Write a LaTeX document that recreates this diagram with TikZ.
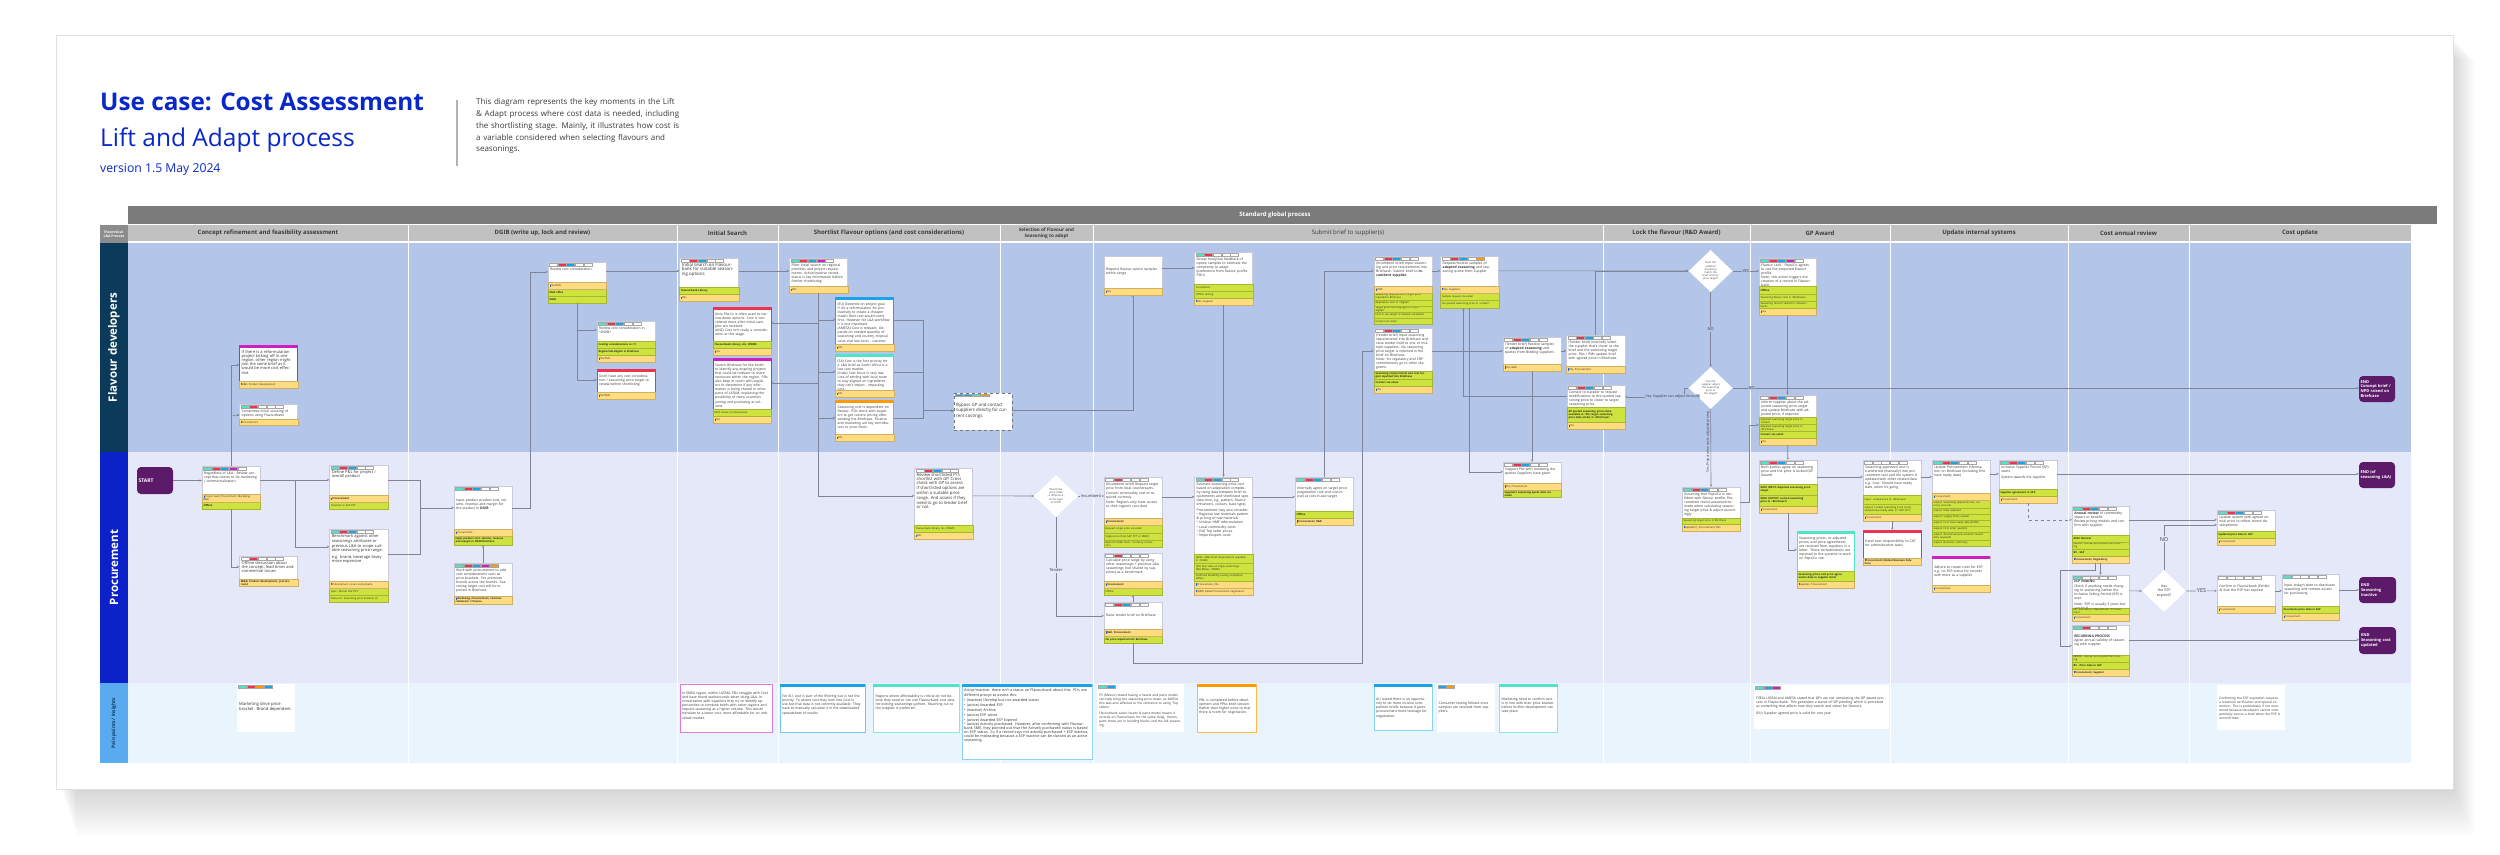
\documentclass[tikz,border=0pt]{standalone}
\usepackage{fontspec}
\setmainfont{Open Sans}
\usetikzlibrary{arrows.meta, positioning, shapes.geometric}
\definecolor{titleblue}{HTML}{0A28C8}
\definecolor{laneFD}{HTML}{B3C5E8}
\definecolor{laneP}{HTML}{E4E8F9}
\definecolor{laneI}{HTML}{EAF4FD}
\definecolor{labFD}{HTML}{0B3A5A}
\definecolor{labP}{HTML}{0A22C8}
\definecolor{labI}{HTML}{5AAAF0}
\definecolor{hdrdark}{HTML}{7B7B7B}
\definecolor{hdrlight}{HTML}{C1C1C1}
\definecolor{cyel}{HTML}{FFDC80}
\definecolor{cgrn}{HTML}{CFE33F}
\definecolor{cteal}{HTML}{50E3C8}
\definecolor{cred}{HTML}{EE3350}
\definecolor{cblue}{HTML}{1AA3E8}
\definecolor{cmag}{HTML}{D01FC0}
\definecolor{corg}{HTML}{FF9A00}
\definecolor{endpurple}{HTML}{5C1A68}
\definecolor{flowgray}{HTML}{7F8496}
\definecolor{cardline}{HTML}{C9CCD8}
\definecolor{infoblue}{HTML}{1A6FE0}
\definecolor{textgrey}{HTML}{3A3A3A}
% text sizes for the cards
\newcommand{\cf}{\fontsize{3.4}{4.1}\selectfont}
\newcommand{\rf}{\fontsize{2.6}{3.0}\selectfont}
\newcommand{\ic}{\textcolor{infoblue}{\rule{0.7pt}{2.2pt}}\,}
\newcommand{\txtdrop}{5.5}
% card: [style]{name}{left}{top}{width}{height}{text}
\newcommand{\card}[7][]{%
  \node[card, minimum width=#5pt, minimum height=#6pt, #1] (#2) at (#3+#5/2, #4+#6/2) {};
  \node[cardtxt, text width=#5pt-5pt] (#2t) at ([xshift=2.2pt, yshift=-\txtdrop pt]#2.north west) {#7};}
\newcommand{\tags}[2]{%
  \foreach \tc [count=\ti] in {#2}
    \draw[draw=black!35, line width=0.15pt, fill=\tc]
      ([xshift=\ti*8.6pt-7.1pt, yshift=-1pt]#1.north west) rectangle ++(8pt,-2.8pt);}
\newcommand{\topbar}[2]{\fill[#2] (#1.north west) rectangle ([yshift=-3pt]#1.north east);}
% footer rows, listed bottom first: height/colour/text
\newcommand{\rows}[2]{%
  \gdef\rowy{0}%
  \foreach \rh/\rc/\rt in {#2}{%
    \pgfmathsetmacro\rowtop{\rowy+\rh}%
    \pgfmathsetmacro\rowmid{\rowy+\rh/2}%
    \path[fill=\rc, draw=\rc!80!black, line width=0.15pt]
      ([yshift=\rowy pt]#1.south west) rectangle ([yshift=\rowtop pt]#1.south east);
    \node[rowtxt] at ([xshift=1.5pt, yshift=\rowmid pt]#1.south west) {\rt};
    \global\let\rowy\rowtop}}

\begin{document}
\begin{tikzpicture}[x=1pt, y=-1pt,
  card/.style={rectangle, draw=cardline, line width=0.35pt, fill=white, inner sep=0pt},
  cardtxt/.style={anchor=north west, inner sep=0pt, align=left, font=\cf, text=black!80},
  rowtxt/.style={anchor=west, inner sep=0pt, align=left, text width=50pt, font=\rf, text=black!85},
  dec/.style={diamond, fill=white, minimum width=44pt, minimum height=42pt, inner sep=0pt,
    text width=19pt, align=center, font=\fontsize{2.6}{3.1}\selectfont, text=black!75},
  endnode/.style={rectangle, rounded corners=4pt, fill=endpurple, text=white, inner sep=1.5pt,
    text width=33pt, align=left, font=\fontsize{4}{4.9}\selectfont\bfseries},
  flow/.style={draw=flowgray, line width=0.6pt, -{Stealth[length=2.4pt,width=2.2pt]}},
  lbl/.style={font=\fontsize{4}{5}\selectfont, text=textgrey, inner sep=0.8pt},
  colhead/.style={font=\fontsize{6}{7}\selectfont\bfseries, text=textgrey},
  lanelab/.style={rotate=90, text=white, font=\fontsize{11.5}{13}\selectfont\bfseries, inner sep=0pt}]

\useasboundingbox (0,0) rectangle (2500,854);
\fill[white] (0,0) rectangle (2500,854);
% soft shadow and page
\foreach \s in {1,...,20}
  \fill[black, opacity=0.006, rounded corners=6pt] (60+0.8*\s,35+1.2*\s) rectangle (2453+1.1*\s,789+2.4*\s);
\fill[white] (56,35) rectangle (2453,789);
\draw[black!12, line width=0.5pt] (56,35) rectangle (2453,789);

% title block
\node[anchor=base west, inner sep=0pt, text=titleblue, font=\fontsize{24.3}{28}\selectfont\bfseries] (title) at (100,110) {Use case: Cost Assessment};
\node[anchor=base west, inner sep=0pt, text=titleblue, font=\fontsize{24.5}{28}\selectfont] (subtitle) at (100,146) {Lift and Adapt process};
\node[anchor=base west, inner sep=0pt, text=titleblue, font=\fontsize{12.2}{14}\selectfont] (version) at (100,172) {version 1.5 May 2024};
\draw[black!30, line width=1.2pt] (457,100) -- (457,166);
\node[anchor=north west, inner sep=0pt, text width=260pt, align=left, text=textgrey, font=\fontsize{8}{11.9}\selectfont] (desc) at (476,98)
  {This diagram represents the key moments in the Lift\\ \& Adapt process where cost data is needed, including\\ the shortlisting stage. Mainly, it illustrates how cost is\\ a variable considered when selecting flavours and\\ seasonings.};

% header bars
\fill[hdrdark] (128,206) rectangle (2437,224);
\node[font=\fontsize{6}{7}\selectfont\bfseries, text=white] (hstd) at (1275,215) {Standard global process};
\fill[hdrlight] (128,225) rectangle (2411,241);
\node[fill=black!45, minimum width=28pt, minimum height=18pt, inner sep=0pt, text=white, align=left,
  font=\fontsize{3.4}{4}\selectfont\bfseries] (theo) at (114,234) {Theoretical\\L\&A Process};
\foreach \xa/\xb/\ct in {128/408/{Concept refinement and feasibility assessment},
    408/677/{DGIB (write up, lock and review)}, 677/778/{Initial Search},
    778/1000/{Shortlist Flavour options (and cost considerations)},
    1603/1750/{Lock the flavour (R\&D Award)}, 1750/1890/{GP Award},
    1890/2068/{Update internal systems}, 2068/2189/{Cost annual review}, 2189/2411/{Cost update}}
  \node[colhead] (h\xa) at ({(\xa+\xb)/2},233) {\ct};
\node[colhead, align=center, font=\fontsize{4.6}{5.6}\selectfont\bfseries] (hsel) at (1046.5,233) {Selection of Flavour and\\Seasoning to adapt};
\node[colhead, font=\fontsize{6}{7}\selectfont] (hsub) at (1348,233) {Submit brief to supplier(s)};

% swimlanes
\fill[laneFD] (128,243) rectangle (2411,452);
\fill[laneP] (128,452) rectangle (2411,683);
\fill[laneI] (128,683) rectangle (2411,763);
\node[lanelab, fill=labFD, minimum width=209pt, minimum height=28pt] (lfd) at (114,347.5) {Flavour developers};
\node[lanelab, fill=labP, minimum width=231pt, minimum height=28pt] (lpr) at (114,567.5) {Procurement};
\node[lanelab, fill=labI, minimum width=80pt, minimum height=28pt, text=labFD, font=\fontsize{4.8}{5.5}\selectfont\bfseries] (lpp) at (114,723) {Pain points / Insights};
\foreach \xs in {408,677,778,1000,1093,1603,1750,1890,2068,2189}
  \draw[white, line width=0.8pt] (\xs,225) -- (\xs,763);

% ---------------- Flavour developers
\card[draw=cmag]{a1}{239.5}{345}{58}{43}{\fontsize{4}{4.8}\selectfont If there is a reformulation project kicking off in one region, other region might join the same brief as it would be more cost effective.}
\topbar{a1}{cmag} \rows{a1}{7/cyel/{\ic R\&D, Product development}}
\card{a2}{239.5}{404}{58}{21}{Sometimes initial scouting of options using Flavourbank}
\tags{a2}{cteal,cred,white,white,white} \rows{a2}{6/cyel/{\ic Procurement}}
\card{d1}{548}{262}{58}{41}{Review cost consideration}
\tags{d1}{white,cred,cblue,white,white} \rows{d1}{7/cgrn/{\textbf{DGIB}}, 7/cgrn/{\textbf{DMS office}}, 7/cyel/{\ic PAs/PMs}}
\card{d2}{597}{321}{58}{41}{Review cost consideration in <DGIB>}
\tags{d2}{cteal,cred,cblue,white,white} \rows{d2}{7/cyel/{\ic PAs/PMs}, 7/cgrn/{\textbf{Region/Sub-Region in Briefcase}}, 7/cgrn/{\textbf{Costing considerations in <?>}}}
\card[draw=cred]{d3}{597}{369}{58}{30}{Don't have any cost consideration / seasoning price target to review before shortlisting}
\topbar{d3}{cred} \rows{d3}{7/cyel/{\ic PAs/PMs}}
\card{i1}{679.6}{258}{59}{43}{\fontsize{4.4}{5.4}\selectfont Initial search on Flavourbank for suitable seasoning options}
\tags{i1}{white,cred,cblue,white,white} \rows{i1}{7/cyel/{\ic PAs}, 7/cgrn/{\textbf{Flavourbank Library}}}
\card[draw=cred]{i2}{713}{307}{58}{48}{(Asia PAs) It is often used to narrow down options. Cost is considered more after initial samples are received.\\ (ANZ) Cost isn't really a consideration at this stage.}
\topbar{i2}{cred} \rows{i2}{7/cyel/{\ic PAs}, 7/cgrn/{\textbf{Flavourbank Library, AIs, PERMS}}}
\card[draw=cmag]{i3}{713}{358}{58}{65}{Search Briefcase for like briefs to identify any ongoing projects that could be relevant to share resources within the region. PDs also keep in touch with suppliers to determine if any information is being shared in other parts of LATAM, explaining the possibility of more countries joining and producing at volume.}
\topbar{i3}{cmag} \rows{i3}{7/cyel/{\ic PAs}, 7/cgrn/{DMC status in Flavourbank}}
\card{s1}{789.5}{258}{58}{35}{Filter initial search on regional priorities and project requirements. Active/inactive record status is key information before further shortlisting}
\tags{s1}{cteal,cred,cblue,cmag,white} \rows{s1}{7/cyel/{\ic PAs}}
\card[draw=cblue]{s2}{835.5}{297}{58}{54}{(EU) Depends on project goal. If it's a reformulation for productivity to create a cheaper match then cost would come first. However for L\&A workflow it is less important.\\ (AMESA) Cost is relevant. Depends on needed quantity of seasoning and country, tropical costs and low costs - customs and delivery.}
\topbar{s2}{cblue} \rows{s2}{7/cyel/{\ic PAs}}
\card[draw=cteal]{s3}{835.5}{354}{58}{43}{(SA) Cost is the first priority for a L\&A brief as South Africa is a low cost market.\\ (India) Cost focus is very low. Lots of settling with local team to stay aligned on ingredients they can't import - impacting cost.}
\topbar{s3}{cteal} \rows{s3}{7/cyel/{\ic PAs}}
\card[draw=corg]{s4}{835.5}{400}{58}{41}{Seasoning cost is dependent on flavour. PDs check with suppliers to get current pricing after sending the Briefcase. Finance and marketing are key contributors to price limits.}
\topbar{s4}{corg} \rows{s4}{7/cyel/{\ic PAs}}
\renewcommand{\txtdrop}{10}
\card[dashed, draw=black!55, line width=0.5pt]{s5}{954}{393}{58}{37}{\fontsize{4.4}{5.4}\selectfont Bypass GP and contact suppliers directly for current costings.}
\tags{s5}{cblue,cblue,cteal,corg}
\renewcommand{\txtdrop}{12}
\card{f1}{1104}{256}{58}{39}{Request flavour option samples within range}
\rows{f1}{7/cyel/{\ic PAs}}
\renewcommand{\txtdrop}{5.5}
\card{f2}{1194.5}{252}{58}{53}{Group Analytical feedback of option samples to estimate the complexity to adapt\\ (preference from flavour profile PDU)}
\tags{f2}{cteal,cred,white,white,white} \rows{f2}{7/cyel/{\ic PAs, Supplier}, 7/cgrn/{Offline testing}, 7/cgrn/{Consultants}}
\card{f3}{1374}{256}{58}{68}{(Incumbent brief) Input seasoning and price requirements into Briefcase. Submit brief to \textbf{incumbent supplier}.}
\tags{f3}{white,cred,cblue,white,white} \rows{f3}{6/cgrn/{Contact via email}, 6/cgrn/{Cost in use target in manual calculation}, 6/cgrn/{Target price currency/type in <non-digital>}, 6/cgrn/{Application sent in <digital>}, 7/cgrn/{Seasoning requirements, target price inputted in Briefcase}, 7/cyel/{\ic PDM}}
\card{f4}{1374}{328}{58}{65}{(Tender brief) Input seasoning requirements into Briefcase and raise tender brief to one or multiple suppliers. No seasoning price target is inputted in the brief on Briefcase.\\ Note: for regulatory and CRP commitments go to other diagrams.}
\tags{f4}{white,cred,cblue,white,white} \rows{f4}{7/cyel/{\ic PAs}, 7/cgrn/{\textbf{Contact via email}}, 8/cgrn/{\textbf{Seasoning requirements and cost targets inputted into Briefcase}}}
\card{f5}{1440.5}{256}{58}{52}{Request/receive samples of \textbf{adapted seasoning} and seasoning quote from Supplier}
\tags{f5}{white,cred,cblue,white,corg} \rows{f5}{8/cgrn/{No quoted seasoning price in <email?>}, 7/cgrn/{Sample request via email}, 7/cyel/{\ic PAs, Suppliers}}
\card{f6}{1503}{337}{58}{34}{(Tender brief) Receive samples of \textbf{adapted seasoning} and quotes from Bidding Suppliers}
\tags{f6}{white,cred,cblue,white,white} \rows{f6}{7/cyel/{\ic PAs, R\&D}}
\card{f7}{1566.4}{335}{58.6}{38}{(Tender brief) Internally select the supplier that's closer to the brief and the seasoning target price. PAs / PMs update brief with agreed price in Briefcase.}
\tags{f7}{white,cred,cblue,white,white} \rows{f7}{7/cyel/{\ic PAs, Procurement}}
\card{f8}{1567}{385}{58}{44}{Contact to supplier to request modifications to the quoted seasoning price to closer to target seasoning price}
\tags{f8}{white,cred,cblue,white,white} \rows{f8}{7/cyel/{\ic PAs}, 15/cgrn/{\textbf{All quoted seasoning prices data available in <5\% target seasoning price data email, in <Briefcase>}}}
\card{g1}{1759}{258}{57}{57}{Flavour Lock - PepsiCo agrees to use the proposed flavour profile.\\ Note: this action triggers the creation of a record in Flavourbank.}
\tags{g1}{cteal,cred,cblue,cmag,white} \rows{g1}{7/cyel/{\ic PAs}, 7/cgrn/{Seasoning record created in <Flavourbank>}, 7/cgrn/{Seasoning flavour lock in <Briefcase>}, 8/cgrn/{\textbf{Offline}}}
\card{g2}{1759}{395}{57}{50}{Inform supplier about the adjusted seasoning price target and update Briefcase with adjusted price, if required}
\tags{g2}{white,cred,cblue,white,white} \rows{g2}{7/cyel/{\ic PAs}, 7/cgrn/{\textbf{Contact via email}}, 7/cgrn/{Adjusted seasoning target price in <Briefcase>}, 7/cgrn/{Adjusted seasoning target price in <email>}}

\node[dec] (dm2) at (1710.6,271) {Does the adapted seasoning match the brief and the price target?};
\node[dec] (dm3) at (1710.6,388) {Can the supplier adjust the seasoning price to the target?};
\node[endnode, minimum width=36pt, minimum height=26pt] (end1) at (2377,389) {END\\Concept brief /\\NPD raised on\\Briefcase};

% ---------------- Procurement
\node[endnode, minimum width=36pt, minimum height=27pt, font=\fontsize{5}{6}\selectfont\bfseries] (start) at (155,480.5) {START};
\card{p1}{202}{466}{58}{43}{Regardless of L\&A - Review concept that comes to do marketing / commercialisation}
\tags{p1}{cteal,cred,cblue,cmag,white} \rows{p1}{7/cgrn/{\textbf{Offline}}, 8/cyel/{\ic Project lead, Procurement, Marketing, R\&D}}
\card{p2}{329.6}{465}{58.4}{44}{\fontsize{4}{4.8}\selectfont Define P\&L for project / overall product}
\tags{p2}{cteal,cred,cblue,white,white} \rows{p2}{7/cgrn/{Volumes to SAP PCT}, 7/cyel/{\ic \textbf{Procurement}}}
\card{p3}{329.6}{529}{58.4}{73}{\fontsize{4}{4.8}\selectfont Benchmark against other seasonings attributes or previous L\&A to scope suitable seasoning price range.\\[2pt] e.g. brand, beverage bluey more expensive}
\tags{p3}{cteal,cred,cblue,white,white} \rows{p3}{7/cgrn/{Data out: Seasoning price brackets (?)}, 7/cgrn/{Spec: Decide SAP PCT}, 7/cyel/{\ic Procurement, Local counterparts}}
\card{p4}{239.5}{556}{58}{30}{\fontsize{4}{4.8}\selectfont Offline discussion about the concept, lead times and commercial issues}
\tags{p4}{white,cred,white,white,white} \rows{p4}{7/cyel/{\ic \textbf{R\&D, Product development, procurement}}}
\renewcommand{\txtdrop}{13}
\card{p5}{454}{486}{58}{59}{Input product product cost, volume, revenue and margin for the product in \textbf{DGIB}}
\renewcommand{\txtdrop}{5.5}
\tags{p5}{cteal,cred,cblue,white,white} \rows{p5}{9/cgrn/{\textbf{Input product cost, volume, revenue and margin in DGIB/Briefcase}}, 7/cyel/{\ic Procurement}}
\card{p6}{454}{563}{58}{41}{Work with procurement to add cost considerations such as price brackets. For premium brands across the brands. Seasoning target cost will be inputted in Briefcase.}
\tags{p6}{cteal,cred,cblue,cmag,corg} \rows{p6}{8/cyel/{\ic \textbf{Marketing, Procurement, Commercialisation / Finance}}}
\card{sh}{914.5}{468}{58}{71}{\fontsize{4.2}{5.1}\selectfont Review shortlisted P/S shortlist with GP. Cross check with GP to assess if shortlisted options are within a suitable price range. And assess if they need to go to tender brief or not.}
\tags{sh}{white,cred,cblue,white,white} \rows{sh}{7/cyel/{\ic PAs}, 7/cgrn/{Flavourbank library, AIs, PERMS}}
\node[dec] (dm1) at (1056,496) {Would the price make a difference to the type of brief?};
\card{pr1}{1104}{477}{58}{70}{(Incumbent brief) Request single price from local counterparts.\\[1.5pt] Convert commodity cost to required currency.\\ Note: Regions only have access to their region's cost data}
\tags{pr1}{white,cred,white,white,white} \rows{pr1}{7/cgrn/{Report in R\&D tools - Currency conversion}, 7/cgrn/{Single price from SAP PCT or DIBCS}, 8/cgrn/{Request single price via email}, 7/cyel/{\ic \textbf{Procurement}}}
\card{pr4}{1104}{553}{58}{42}{Calculate price range by using other seasonings + previous L\&A seasonings (not shared by suppliers) as a benchmark}
\tags{pr4}{white,cred,white,white,white} \rows{pr4}{7/cgrn/{Offline}, 7/cyel/{\ic \textbf{Procurement}}}
\renewcommand{\txtdrop}{12}
\card{pr5}{1104}{602}{58}{41}{Raise tender brief on Briefcase}
\renewcommand{\txtdrop}{5.5}
\tags{pr5}{white,cred,cblue,white,white} \rows{pr5}{7/cgrn/{\textbf{No price inputted into Briefcase}}, 7/cyel/{\ic \textbf{R\&D, Procurement}}}
\card{pr2}{1194.5}{477}{58}{118}{Estimate seasoning price cost based on adaptation complexity using data between brief requirements and shortlisted spec data (size, e.g. pattern, flavour enhancers, colours, base type).\\[2pt] Procurement may also consider:\\ • Regional raw materials pattern \& pricing of raw materials\\ • Unclear HMF reformulation\\ • Local commodity costs\\ • (SA) Top seller prices\\ • Import/export costs}
\tags{pr2}{cteal,cred,cblue,white,white} \rows{pr2}{7/cyel/{\ic (NPD) Global Procurement negotiators}, 7/cyel/{\ic Procurement, PAs}, 8/cgrn/{Technical feasibility testing completed offline}, 10/cgrn/{(EU) Spec data of single seasonings (Workflow) - PERMS}, 9/cgrn/{(APAC, ANZ) Brief requirements available in <DGIB>}}
\renewcommand{\txtdrop}{10}
\card{pr3}{1295}{477}{58}{48}{Internally agree on target price (negotiation rule and cost-in-use) at cost-in-use target}
\renewcommand{\txtdrop}{5.5}
\tags{pr3}{cteal,cred,cblue,white,white} \rows{pr3}{7/cyel/{\ic \textbf{Procurement, R\&D}}, 7/cgrn/{\textbf{Offline}}}
\card{q0}{1503}{462}{58}{35}{Support PAs with reviewing the quotes Suppliers have given}
\tags{q0}{white,cred,cblue,white,white} \rows{q0}{7/cgrn/{\textbf{Supplier's seasoning quote data via email}}, 7/cyel/{\ic PAs, Procurement}}
\card{q1}{1682}{487}{58}{44}{Assuming that PepsiCo is confident with flavour profile, Procurement revisit assumptions made when calculating seasoning target price \& adjust accordingly}
\tags{q1}{cteal,cred,cblue,white,white} \rows{q1}{7/cyel/{\ic Supplier(?), Procurement, PAs}, 6/cgrn/{Seasoning target price in Briefcase}}
\card{g3}{1759}{460}{58}{53}{Both parties agree on seasoning price and the price is locked (GP Award)}
\tags{g3}{cteal,cred,cblue,white,white} \rows{g3}{7/cyel/{\ic Procurement}, 11/cgrn/{\textbf{DATA OUTPUT: Locked seasoning price in <Briefcase?>}}, 11/cgrn/{\textbf{DATA INPUT: Adjusted seasoning price target}}}
\card[draw=cteal]{g4}{1797}{531}{57}{57}{Seasoning prices, or adjusted prices, and price agreements are received from suppliers in a letter. These considerations are inputted to the systems to work on PepsiCo site.}
\topbar{g4}{cteal} \rows{g4}{7/cyel/{\ic Supplier, Procurement}, 10/cgrn/{\textbf{Seasoning prices and price agreements data in supplier letter}}}
\card{u1}{1863}{460}{58}{61}{Seasoning approved cost is transferred (manually) into procurement tool and the system is updated with other related data e.g. Cost. Should have ready date, when it's going}
\tags{u1}{white,white,white,white,white} \rows{u1}{7/cyel/{\ic Procurement}, 10/cgrn/{output: Locked seasoning price (cost), should have ready date, in <SAP PCT>}, 9/cgrn/{Input: Locked price in <Briefcase>}}
\renewcommand{\txtdrop}{10}
\card[draw=cred]{u2}{1863}{530}{58}{35}{Hand over responsibility to CAT for administrative tasks}
\topbar{u2}{cred} \rows{u2}{7/cyel/{\ic \textbf{Procurement (Global Business Solution)}}}
\card[draw=black!25]{u4}{1932}{556}{58}{36}{Adhere to create rules for ESP e.g. no ESP status for records with more as a supplier}
\topbar{u4}{cmag} \rows{u4}{7/cyel/{\ic Procurement}}
\renewcommand{\txtdrop}{5.5}
\card{u3}{1932}{460}{58}{86}{Update Procurement information on Briefcase (including first have ready date)}
\tags{u3}{cteal,cred,cblue,white,white} \rows{u3}{6/cgrn/{output: Business continuity}, 8/cgrn/{output: All (manual procurement Award data required)}, 6/cgrn/{output: First order quantity}, 6/cgrn/{output: First have ready date (FHRD)}, 6/cgrn/{output: Supply Chain update}, 6/cgrn/{output: Date awarded}, 8/cgrn/{output: Seasoning approved cost, currency and unit}, 7/cyel/{\ic Procurement}}
\card{u5}{1999}{460}{58}{43}{Inclusive Supplier Period (ISP) starts\\[2pt] System awards the supplier}
\tags{u5}{cteal,cred,cblue,white,white} \rows{u5}{7/cyel/{\ic Procurement}, 7/cgrn/{\textbf{Supplier agreement in SAP}}}
\card{c1}{2072}{506}{57}{57}{\textbf{Annual review} of commodity impact or benefit.\\ Review pricing models and confirm with supplier}
\tags{c1}{cteal,cred,cblue,white,white} \rows{c1}{7/cyel/{\ic \textbf{Procurement, Regulatory}}, 7/cgrn/{\textbf{BV - SAP}}, 7/cgrn/{ERROR - Annual price quote files missing}, 7/cgrn/{\textbf{APAC Monitor}}}
\card{c2}{2072}{575}{57}{46}{\textbf{ESP ENDING}\\ Check if anything needs changing to seasoning before the Inclusive Selling Period (ISP) is over.\\[2pt] Note: ESP is usually 3 years but can be 8}
\tags{c2}{cteal,white,white,white,white} \rows{c2}{7/cyel/{\ic Procurement}, 6/cgrn/{ESP end date in Flavourbank / Procurement}}
\renewcommand{\txtdrop}{10}
\card{c3}{2072}{625}{57}{51}{\textbf{RECURRING PROCESS}\\ Agree annual validity of seasoning with supplier}
\tags{c3}{cteal,cred,white,white,white} \rows{c3}{7/cyel/{\ic \textbf{Procurement, Supplier}}, 7/cgrn/{\textbf{BV - Price data in SAP}}, 7/cgrn/{ERROR - Annual price quote files missing}}
\renewcommand{\txtdrop}{5.5}
\card{cu1}{2217}{510}{58}{35}{Update system with agreed annual price to reflect recent developments}
\tags{cu1}{cteal,cred,cblue,white,white} \rows{cu1}{7/cyel/{\ic Procurement}, 7/cgrn/{\textbf{Updated price data in SAP}}}
\renewcommand{\txtdrop}{10}
\card{cu2}{2217}{575}{58}{38}{Confirm in Flavourbank (Exhibit A) that the ESP has expired}
\tags{cu2}{white,white,white,white,white} \rows{cu2}{7/cyel/{\ic Procurement}}
\card{cu3}{2282}{574}{57}{46}{Input today's date to deactivate seasoning and remove access for purchasing}
\tags{cu3}{cteal,white,white,white,white} \rows{cu3}{7/cyel/{\ic Procurement}, 7/cgrn/{\textbf{Deactivate price data in SAP}}}
\node[dec, font=\fontsize{3.6}{4.3}\selectfont] (dm4) at (2164,591) {Has the ESP expired?};
\node[endnode, minimum width=36pt, minimum height=26pt] (end2) at (2377,475) {END (of\\seasoning L\&A)};
\node[endnode, minimum width=37pt, minimum height=26pt] (end3) at (2377.5,590) {END\\Seasoning\\inactive};
\node[endnode, minimum width=37pt, minimum height=27pt] (end4) at (2377.5,640.5) {END\\Seasoning cost\\updated};

% ---------------- Pain points / insights
\renewcommand{\txtdrop}{18}
\card[draw=none]{pp1}{237}{684}{58}{48}{\fontsize{4.2}{5.2}\selectfont Marketing drive price bracket. Brand dependent.}
\tags{pp1}{cteal,cred,corg,cblue}
\renewcommand{\txtdrop}{8}
\card[draw=cmag!60, line width=0.6pt]{pp2}{680}{684}{92}{48}{In EMEA region, within LATAM, PDs struggle with Cost and have found workarounds when doing L\&A. In conversation with suppliers they try to identify opportunities to combine briefs with other regions and request seasoning at a higher volume. This would translate to a lower cost, more affordable for an individual market.}
\renewcommand{\txtdrop}{11}
\card[draw=cblue!60]{pp3}{780}{684}{85}{48}{For EU, cost is part of the filtering but is not the priority. To assess cost they look into Cost in use but that data is not currently available. They have to manually calculate it in the downloaded spreadsheet of results.}
\topbar{pp3}{cblue}
\card[draw=cteal!70]{pp4}{873.5}{684}{85.2}{48}{Regions where affordability is critical do not believe they need or can use Flavourbank cost data for existing seasonings upfront. Reaching out to the supplier is preferred.}
\topbar{pp4}{cteal}
\renewcommand{\txtdrop}{5}
\card[draw=cblue!50]{pp5}{962}{684}{130}{75}{\fontsize{3.7}{4.9}\selectfont Active/inactive: there isn't a status on Flavourbank about this. PDs use different proxys to assess this:\\ • (inactive) Develop but not awarded status\\ • (active) Awarded ESP\\ • (inactive) Archive\\ • (active) ESP active\\ • (active) Awarded ESP Expired\\ • (active) Actively purchased. However, after confirming with Flavourbank SME, they pointed out that the Actively purchased status is based on ESP status. So if a record says not actively purchased + ESP inactive, could be misleading because a ESP inactive can be classed as an active seasoning.}
\topbar{pp5}{cblue}
\renewcommand{\txtdrop}{10}
\card[draw=none]{pp6}{1097}{684}{87}{48}{\fontsize{3.2}{4}\selectfont PS (Mexico) stated having a hearts and parts model can help bring the seasoning price down, as AMESA this was also affected to the reference to using 'Top sellers'.\\[2pt] Flavourbank select hearts \& parts model means it records on Flavourbank for the same thing. Hearts, parts these are in building blocks and the full seasoning.}
\tags{pp6}{cteal,cblue}
\renewcommand{\txtdrop}{15}
\card[draw=corg!70]{pp7}{1197}{684}{59}{48}{PBL is completed before development and PPAs brief session. Rather than higher price to that there is room for negotiation.}
\topbar{pp7}{corg}
\renewcommand{\txtdrop}{14}
\card[draw=cblue!50]{pp8}{1374}{684}{58}{46}{AU stated there is an opportunity to do more incisive competition briefs because it gives procurement more leverage for negotiation.}
\topbar{pp8}{cblue}
\renewcommand{\txtdrop}{18}
\card[draw=none]{pp9}{1436.5}{684}{58}{48}{Consumer testing follows once samples are received from suppliers.}
\tags{pp9}{cblue,corg}
\renewcommand{\txtdrop}{14}
\card[draw=cteal!70]{pp10}{1499.5}{684}{58}{48}{Marketing need to confirm cost is in line with their price bracket before further development can take place}
\topbar{pp10}{cteal}
\renewcommand{\txtdrop}{12}
\card[draw=none]{pp11}{1754}{685}{135}{44}{FZEAI LATAM and AMESA stated that GPs are not completing the GP award process in Flavourbank. This generates a status of 'GP pending' which is perceived as something that affects how they search and select for flavours.\\[3pt] (EU) Supplier agreed price is valid for one year}
\tags{pp11}{cteal,cblue,cmag}
\card[draw=none]{pp12}{2217}{685}{68}{45}{\fontsize{3.2}{3.9}\selectfont Confirming the ESP expiration requires a location's verification and special attention. This is problematic if not monitored because developers cannot competitively source a brief when the ESP is unconfirmed.}

% ---------------- connectors
\draw[flow] (start.east) -- (start.east -| p1.west);
\draw[flow] ([yshift=-14pt]p1.north east) -- ([yshift=-15pt]p2.north west);
\draw[flow] ([xshift=35pt,yshift=-14pt]p1.north east) |- ([yshift=-18pt]p3.north west);
\draw[flow] (p1.north) |- ([yshift=-20pt]a1.north west);
\draw[flow, densely dotted] (p1.north) |- ([yshift=-11pt]a2.north west);
\draw[flow] (p1.south) |- ([yshift=-11pt]p4.north west);
\draw[flow] ([yshift=-15pt]p2.north east) -- ++(32,0) |- ([yshift=-22pt]p5.north west);
\draw[flow] ([yshift=-25pt]p3.north east) -- ++(32,0) |- ([yshift=-22pt]p5.north west);
\draw[flow] ([yshift=-22pt]p5.north east) -- ++(18,0) |- ([yshift=-10pt]d1.north west);
\draw[flow] (p6) -- (p5);
\draw[flow] (d1.south) |- ([yshift=-9pt]d2.north west);
\draw[flow] (d1.south) |- ([yshift=-11pt]d3.north west);
\draw[flow] ([yshift=-9pt]d1.north east) -- ([yshift=-9pt]d1.north east -| i1.west);
\draw[flow] ([yshift=-13pt]i1.north east) -- ([yshift=-13pt]i1.north east -| s1.west);
\draw[flow] (s1.south) |- ([yshift=-28pt]sh.north west);
\draw[flow] ([yshift=-16pt]i2.north east -| s1.south) -- ([yshift=-16pt]i2.north east);
\draw[flow] ([yshift=-25pt]i3.north east -| s1.south) -- ([yshift=-25pt]i3.north east);
\draw[flow] ([yshift=-23pt]s2.north west -| s1.south) -- ([yshift=-23pt]s2.north west);
\draw[flow] ([yshift=-18pt]s3.north west -| s1.south) -- ([yshift=-18pt]s3.north west);
\draw[flow] ([yshift=-18pt]s4.north west -| s1.south) -- ([yshift=-18pt]s4.north west);
\draw[flow] ([yshift=-23pt]s2.north east) -- ++(30,0) |- ([yshift=-18pt]s5.north west);
\draw[flow] ([yshift=-18pt]s3.north east) -- ++(30,0) |- ([yshift=-18pt]s5.north west);
\draw[flow] ([yshift=-18pt]s4.north east) -- ++(30,0) |- ([yshift=-18pt]s5.north west);
\draw[flow] ([yshift=-18pt]s5.north east) -| (f1.south);
\draw[flow] ([yshift=-12pt]f1.north east) -- ([yshift=-12pt]f1.north east -| f2.west);
\draw[flow] (f2) -- (pr2);
\draw[flow] ([yshift=-28pt]sh.north east) -- (dm1.west);
\draw[flow] (dm1.east) -- node[lbl, fill=laneP]{Incumbent} (dm1.east -| pr1.west);
\draw[flow] (dm1.south) |- node[lbl, fill=laneP, pos=0.27]{Tender} ([yshift=-14pt]pr5.north west);
\draw[flow] (pr5) -- (pr4);
\draw[flow] ([yshift=-20pt]pr1.north east) -- ([yshift=-20pt]pr1.north east -| pr2.west);
\draw[flow] ([yshift=-20pt]pr2.north east) -- ([yshift=-20pt]pr2.north east -| pr3.west);
\draw[flow] (pr3.north) |- ([yshift=-15pt]f3.north west);
\draw[flow] (pr5.south) -- ++(0,20) -| ([xshift=-12pt,yshift=-23pt]f4.north west) -- ([yshift=-23pt]f4.north west);
\draw[flow] ([yshift=-15pt]f3.north east) -- ([yshift=-15pt]f3.north east -| f5.west);
\draw[flow] ([yshift=-15pt]f5.north east) -- (dm2.west);
\draw[flow] ([yshift=-23pt]f4.north east) -- ([yshift=-23pt]f4.north east -| f6.west);
\draw[flow] ([yshift=-14pt]f6.north east) -- ([yshift=-14pt]f6.north east -| f7.west);
\draw[flow] (f7.north) |- (dm2.west);
\draw[flow] (dm2.east) -- node[lbl, fill=laneFD]{YES} (dm2.east -| g1.west);
\draw[flow] (dm2.south) -- node[lbl, fill=laneFD]{NO} (dm3.north);
\draw[flow] (dm3.east) -- node[lbl, fill=laneFD, pos=0.03]{NO} (dm3.east -| end1.west);
\draw[flow] (dm3.west) -- ++(-4,0) |- node[lbl, fill=laneFD, pos=0.6, font=\fontsize{3.6}{4}\selectfont]{Yes, Supplier can adjust formula} ([yshift=-12pt]f8.north east);
\draw[flow] ([yshift=-11pt]f8.north west) -| ([xshift=-6pt]f5.south);
\draw[flow] (f5.south) |- ([yshift=-10pt]q0.north west);
\draw[flow] (f6) -- (q0);
\draw[flow] (dm3.south) -- node[lbl, rotate=90, anchor=south, pos=0.42, font=\fontsize{3.4}{4}\selectfont]{Yes, Preparation costs adjusted pricing} (q1.north);
\draw[flow] ([yshift=-15pt]q1.north east) -- ++(9.5,0) |- ([yshift=-30pt]g2.north west);
\draw[flow] (g1) -- (g2);
\draw[flow] (g2) -- (g3);
\draw[flow] ([yshift=-17pt]g3.north east) -- ([yshift=-17pt]g3.north east -| u1.west);
\draw[flow] (g3.south) |- ([yshift=-19pt]g4.north west);
\draw[flow] (u1) -- (u2);
\draw[flow] ([yshift=-17pt]u1.north east) -- ([yshift=-17pt]u1.north east -| u3.west);
\draw[flow] ([yshift=-14pt]u3.north east) -- ([yshift=-14pt]u3.north east -| u5.west);
\draw[flow] ([yshift=-14pt]u5.north east) -- ([yshift=-14pt]u5.north east -| end2.west);
\draw[flow, dashed] (u5.south) |- ([yshift=-14pt]c1.north west);
\draw[flow] (c1) -- (c2);
\draw[flow] ([xshift=-5pt]c1.south) -- ++(0,7) -| ([xshift=-12pt,yshift=-21pt]c3.north west) -- ([yshift=-21pt]c3.north west);
\draw[flow] ([yshift=-14pt]c1.north east) -- ([yshift=-14pt]c1.north east -| cu1.west);
\draw[flow] ([yshift=-16pt]c2.north east) -- (dm4.west);
\draw[flow] (dm4.north) |- node[lbl, fill=laneP, pos=0.34, font=\fontsize{5.5}{6}\selectfont]{NO} ([yshift=-15pt]cu1.north west);
\draw[flow] (dm4.east) -- node[lbl, fill=laneP, font=\fontsize{5.5}{6}\selectfont]{YES} ([yshift=-16pt]cu2.north west);
\draw[flow] ([yshift=-16pt]cu2.north east) -- ([yshift=-16pt]cu2.north east -| cu3.west);
\draw[flow] ([yshift=-16pt]cu3.north east) -- ([yshift=-16pt]cu3.north east -| end3.west);
\draw[flow] ([yshift=-15pt]c3.north east) -- ([yshift=-15pt]c3.north east -| end4.west);
\end{tikzpicture}
\end{document}
